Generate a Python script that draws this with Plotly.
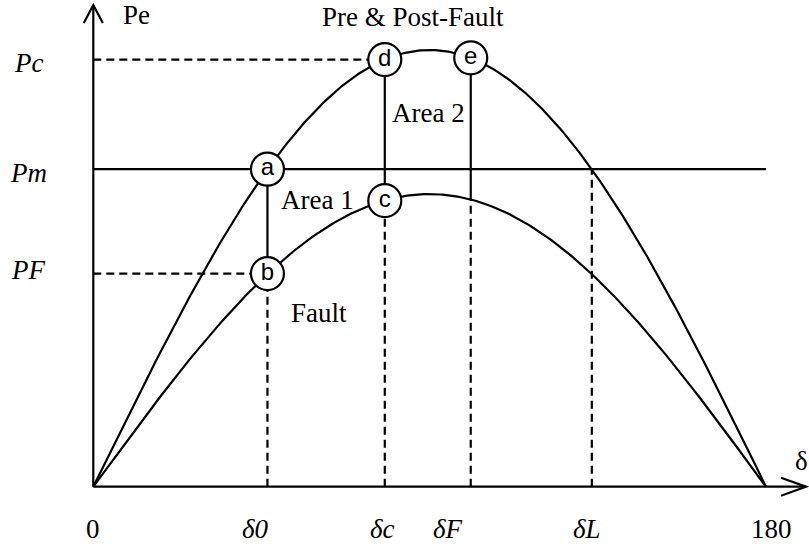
import numpy as np
import plotly.graph_objects as go

# ---- data -------------------------------------------------------------
tick_labels = ["0", "δ0", "δc", "δF", "δL", "180"]
tick_angles = [0, 46.6, 78, 101, 133.4, 180]          # degrees
tick_shift = [0, -12, -2, -23, -5, 6]                 # label nudges (px)

power_labels = ["Pc", "Pm", "PF"]
power_levels = [0.978, 0.727, 0.488]                   # per unit of Pmax
power_shift = [-3, -4, 4]

pre_fault_pmax = 1.0
fault_pmax = 0.67

point_names = ["a", "b", "c", "d", "e"]
point_angles = [46.6, 46.6, 78, 78, 101]
point_powers = [0.727, 0.488, 0.655, 0.978, 0.982]

curve_angles = np.linspace(0, 180, 361)
pre_fault_curve = pre_fault_pmax * np.sin(np.radians(curve_angles))
fault_curve = fault_pmax * np.sin(np.radians(curve_angles))

d0, dc, dF, dL = tick_angles[1:5]
Pc, Pm, PF = power_levels

# ---- geometry of the canvas -------------------------------------------
W, H = 809, 548
X0_PX, X_SCALE = 93.3, 3.737       # pixel of 0 deg, pixels per degree
Y0_PX, Y_SCALE = 486.7, 436.7      # pixel of P=0, pixels per unit P
x_range = [-X0_PX / X_SCALE, (W - X0_PX) / X_SCALE]
y_range = [-(H - Y0_PX) / Y_SCALE, Y0_PX / Y_SCALE]
Y_TOP = (Y0_PX - 5) / Y_SCALE
X_END = (806 - X0_PX) / X_SCALE


def paper(px, py):
    return px / W, 1 - py / H


SERIF = "Liberation Serif, Times New Roman, serif"
SANS = "Liberation Sans, Arial, sans-serif"
INK = "black"
LW = 2.2
DASH = "8px,5px"

fig = go.Figure()

fig.add_trace(go.Scatter(x=curve_angles, y=pre_fault_curve, mode="lines",
                         line=dict(color=INK, width=LW), hoverinfo="skip"))
fig.add_trace(go.Scatter(x=curve_angles, y=fault_curve, mode="lines",
                         line=dict(color=INK, width=LW), hoverinfo="skip"))

# operating points
fig.add_trace(go.Scatter(
    x=point_angles, y=point_powers, mode="markers+text",
    text=point_names, textposition="middle center",
    textfont=dict(family=SANS, size=24, color=INK),
    marker=dict(size=33, color="white", line=dict(color=INK, width=LW)),
    cliponaxis=False, hoverinfo="skip"))


def seg(x0, y0, x1, y1, dash=None):
    line = dict(color=INK, width=LW)
    if dash:
        line["dash"] = dash
    fig.add_shape(type="line", x0=x0, y0=y0, x1=x1, y1=y1,
                  xref="x", yref="y", line=line, layer="below")


def fault_at(a):
    return fault_pmax * np.sin(np.radians(a))


def pre_at(a):
    return pre_fault_pmax * np.sin(np.radians(a))


# axes
seg(0, 0, 0, Y_TOP)
seg(0, 0, X_END, 0)
fig.add_shape(type="path", xref="x", yref="y", xsizemode="pixel", ysizemode="pixel",
              xanchor=0, yanchor=Y_TOP, path="M -9.5,-18 L 0,0 L 9.5,-18",
              line=dict(color=INK, width=LW), layer="below")
fig.add_shape(type="path", xref="x", yref="y", xsizemode="pixel", ysizemode="pixel",
              xanchor=X_END, yanchor=0, path="M -25,9 L 0,0 L -25,-9",
              line=dict(color=INK, width=LW), layer="below")

# mechanical power line
seg(0, Pm, 180, Pm)
# horizontal guides
seg(0, Pc, dc, Pc, DASH)
seg(0, PF, d0, PF, DASH)
# vertical guides
seg(d0, 0, d0, PF, DASH)
seg(d0, PF, d0, Pm)
seg(dc, 0, dc, fault_at(dc), DASH)
seg(dc, fault_at(dc), dc, pre_at(dc))
seg(dF, 0, dF, fault_at(dF), DASH)
seg(dF, fault_at(dF), dF, pre_at(dF))
seg(dL, 0, dL, Pm, DASH)

annotations = []


def label(text, px, py, size=27, family=SERIF):
    x, y = paper(px, py)
    annotations.append(dict(text=text, x=x, y=y, xref="paper", yref="paper",
                            xanchor="center", yanchor="middle", showarrow=False,
                            font=dict(family=family, size=size, color=INK)))


label("Pe", 136, 15)
label("Pre &amp; Post-Fault", 413, 17)
label("Area 2", 429, 113)
label("Area 1", 317, 200)
label("Fault", 319, 313)
label("δ", 801, 461)

# angle labels along the bottom
for t, a, s in zip(tick_labels, tick_angles, tick_shift):
    txt = t if t in ("0", "180") else "<i>" + t + "</i>"
    annotations.append(dict(text=txt, x=a, y=paper(0, 529)[1], xref="x", yref="paper",
                            xanchor="center", yanchor="middle", xshift=s, showarrow=False,
                            font=dict(family=SERIF, size=27, color=INK)))

# power labels on the left
for t, p, s in zip(power_labels, power_levels, power_shift):
    annotations.append(dict(text="<i>" + t + "</i>", x=paper(28, 0)[0], y=p,
                            xref="paper", yref="y", xanchor="center", yanchor="middle",
                            yshift=s, showarrow=False,
                            font=dict(family=SERIF, size=27, color=INK)))

fig.update_layout(
    width=W, height=H, autosize=False,
    margin=dict(l=0, r=0, t=0, b=0, pad=0),
    paper_bgcolor="white", plot_bgcolor="white",
    showlegend=False,
    xaxis=dict(range=x_range, visible=False, fixedrange=True),
    yaxis=dict(range=y_range, visible=False, fixedrange=True),
    annotations=annotations,
)

fig.write_html("out.html", config={"displayModeBar": False})
